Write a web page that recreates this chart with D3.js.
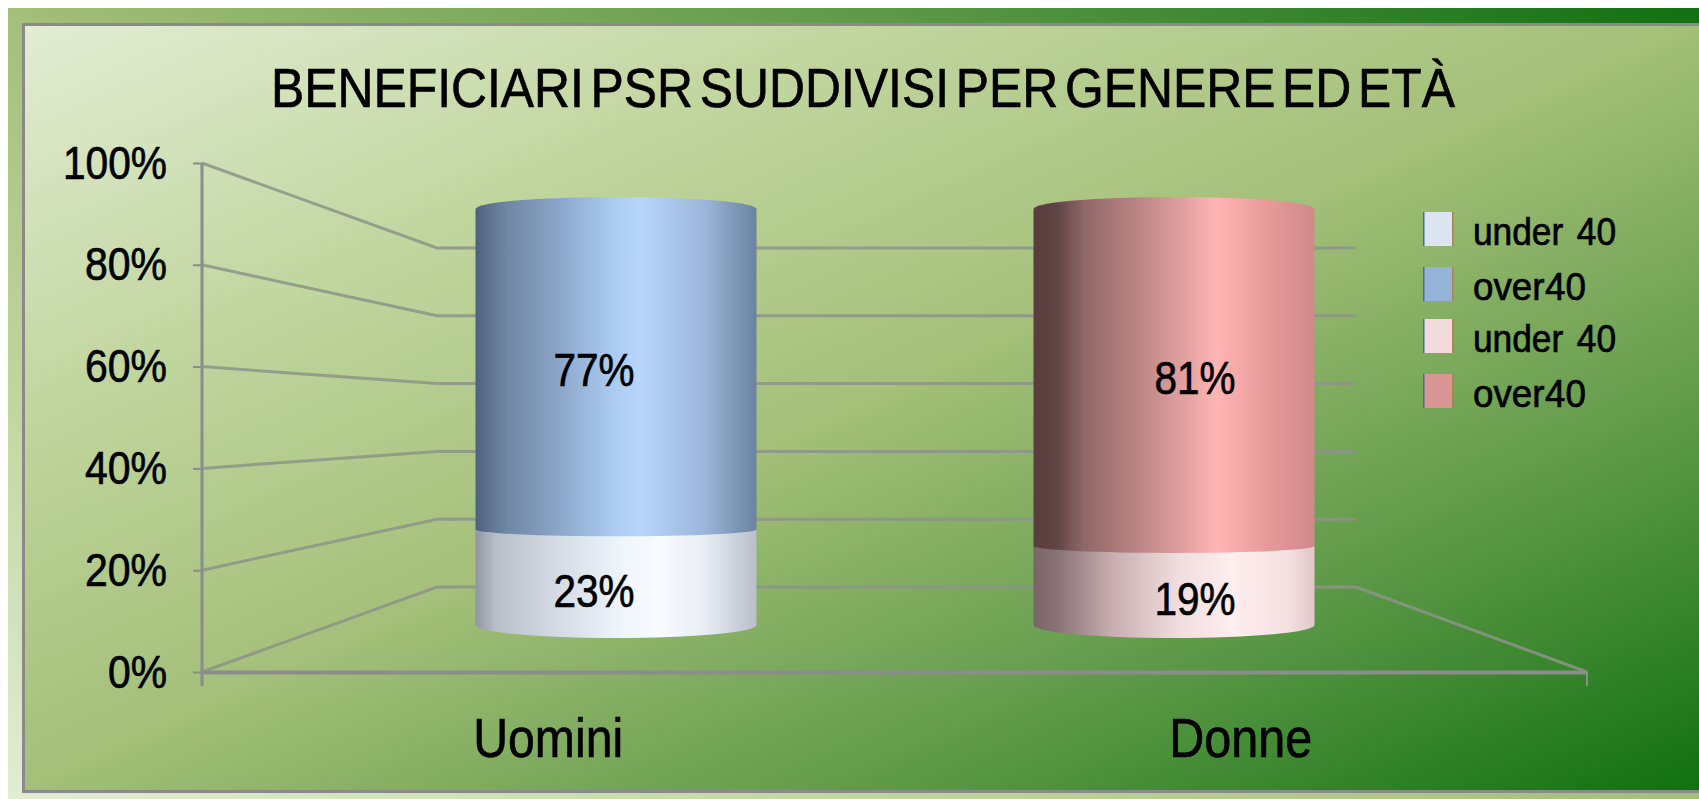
<!DOCTYPE html>
<html><head><meta charset="utf-8">
<script src="https://cdn.jsdelivr.net/npm/d3@7/dist/d3.min.js"></script>
<style>html,body{margin:0;padding:0;background:#fff;overflow:hidden}svg{display:block}text{font-family:"Liberation Sans",Arial,sans-serif;fill:#000;stroke:#000;stroke-width:.7px}</style>
</head><body><svg id="c" width="1699" height="799"></svg>
<script>
const chartTitle = "BENEFICIARI PSR SUDDIVISI PER GENERE ED ETÀ";
const categories = ["Uomini", "Donne"];
const under40 = [23, 19];
const over40 = [77, 81];
const tickValues = [0, 20, 40, 60, 80, 100];
const legendLabels = ["under 40", "over 40", "under 40", "over 40"];
const legendColors = ["#dce6f2", "#95b3d7", "#f2dcdb", "#d99694"];
const cylinderRamps = [
  {top: [[0, "#4f6280"], [.11, "#6f86a3"], [.29, "#8aa5c8"], [.47, "#a8c8ee"], [.585, "#b8d6fc"], [.82, "#9ab5d8"], [1, "#6b82a0"]],
   bottom: [[0, "#8f96a3"], [.07, "#b8bec8"], [.29, "#d5dbe4"], [.53, "#f0f6fc"], [.65, "#f8fbff"], [.82, "#e8ecf4"], [1, "#b8bfca"]]},
  {top: [[0, "#5a3c3c"], [.08, "#5f4444"], [.18, "#906868"], [.36, "#b98282"], [.53, "#e0a0a0"], [.65, "#ffb5b4"], [.83, "#e89a9a"], [1, "#d08a8a"]],
   bottom: [[0, "#7a6468"], [.09, "#8a7478"], [.28, "#c8aeb0"], [.51, "#f0dcdc"], [.7, "#ffeeee"], [.91, "#f4dfe0"], [1, "#e0c8ca"]]}
];

const svg = d3.select("#c");
const defs = svg.append("defs");
function linGrad(id, x1, y1, x2, y2, stops) {
  const g = defs.append("linearGradient").attr("id", id)
    .attr("x1", x1).attr("y1", y1).attr("x2", x2).attr("y2", y2);
  stops.forEach(s => g.append("stop").attr("offset", s[0]).attr("stop-color", s[1]));
}
const bgStops = [[0, "#e2edd4"], [.25, "#c2d6a0"], [.5, "#a3bf78"], [.75, "#5f9a48"], [1, "#107010"]];
linGrad("inner", 0, 0, 1, 1, bgStops);
linGrad("outer", 0, 1, 1, 0, bgStops);
defs.append("filter").attr("id", "soft").append("feGaussianBlur").attr("stdDeviation", 0.7);

svg.append("rect").attr("x", 8).attr("y", 8).attr("width", 1691).attr("height", 791).attr("fill", "url(#outer)");
svg.append("rect").attr("x", 23.5).attr("y", 24.5).attr("width", 1680).attr("height", 767)
  .attr("fill", "url(#inner)").attr("stroke", "#8a8a8a").attr("stroke-width", 3);

function fit(sel, len) { sel.attr("textLength", len).attr("lengthAdjust", "spacingAndGlyphs"); }

svg.append("text").attr("x", 271).attr("y", 107).attr("font-size", 56)
  .style("word-spacing", "-8px").text(chartTitle).call(fit, 1184);

// Scales: front plane, back wall, cylinders
const yFront = d3.scaleLinear().domain([0, 100]).range([672, 163]);
const yBack = d3.scaleLinear().domain([0, 100]).range([587, 248]);
const yCyl = d3.scaleLinear().domain([0, 100]).range([625, 209]);
const xFront = d3.scaleBand().domain(categories).range([202, 1587]);
const xCyl = d3.scalePoint().domain(categories).range([616, 1174]);
const xVal = d3.scalePoint().domain(categories).range([594, 1195]);
const backL = 437, backR = 1356, frontR = 1587, frontL = 202;
const cylW = 281, ryTop = 12, ryMid = 7, ryBot = 13;

const grid = svg.append("g").attr("filter", "url(#soft)")
  .attr("fill", "none").attr("stroke", "#8c9488").attr("stroke-opacity", .85).attr("stroke-width", 3);
grid.selectAll("path.g").data(tickValues).join("path").attr("class", "g")
  .attr("d", v => d3.line()([[frontL, yFront(v)], [backL, yBack(v)], [backR, yBack(v)]]));
grid.append("path").attr("d", d3.line()([[backR, yBack(0)], [frontR, yFront(0)]]));

// Y axis
const yAxis = svg.append("g").attr("transform", `translate(${frontL},0)`)
  .call(d3.axisLeft(yFront).tickValues(tickValues).tickFormat(d => d + "%").tickSize(9).tickPadding(26).tickSizeOuter(0));
yAxis.select(".domain").attr("stroke", "#8c8c8c").attr("stroke-width", 3)
  .attr("d", d3.line()([[0, yFront(100)], [0, 686]]));
yAxis.selectAll(".tick line").attr("stroke", "#8c8c8c").attr("stroke-width", 2);
yAxis.selectAll(".tick text").attr("font-size", 46).attr("dy", 15).attr("font-family", null)
  .each(function (d) { d3.select(this).call(fit, d === 100 ? 104 : d === 0 ? 59 : 82); });

// X axis
const xAxis = svg.append("g").attr("transform", "translate(0,672)")
  .call(d3.axisBottom(xFront).tickSize(0).tickPadding(50));
xAxis.select(".domain").attr("stroke", "#8c8c8c").attr("stroke-width", 4);
xAxis.selectAll(".tick text").attr("font-size", 56).attr("dy", 35).attr("font-family", null)
  .each(function (d, i) { d3.select(this).call(fit, [150, 143][i]); });
const boundaries = [frontL, xFront(categories[1]), frontR];
xAxis.selectAll("line.b").data(boundaries).join("line").attr("class", "b")
  .attr("x1", d => d).attr("x2", d => d).attr("y1", 0)
  .attr("y2", (d, i) => i === 1 ? 6 : 14).attr("stroke", "#8c8c8c").attr("stroke-width", 2);

// Cylinders
const cyl = svg.append("g").attr("filter", "url(#soft)");
categories.forEach((c, i) => {
  const cx = xCyl(c), l = cx - cylW / 2, r = cx + cylW / 2, rx = cylW / 2;
  linGrad("t" + i, 0, 0, 1, 0, cylinderRamps[i].top);
  linGrad("b" + i, 0, 0, 1, 0, cylinderRamps[i].bottom);
  const y0 = yCyl(0), y1 = yCyl(under40[i]), y2 = yCyl(under40[i] + over40[i]);
  cyl.append("path").attr("fill", `url(#t${i})`)
    .attr("d", `M${l},${y2}A${rx},${ryTop} 0 0 1 ${r},${y2}L${r},${y1 + 1}A${rx},${ryMid} 0 0 1 ${l},${y1 + 1}Z`);
  cyl.append("path").attr("fill", `url(#b${i})`)
    .attr("d", `M${l},${y1}A${rx},${ryMid} 0 0 0 ${r},${y1}L${r},${y0}A${rx},${ryBot} 0 0 1 ${l},${y0}Z`);
});

// Value labels
categories.forEach((c, i) => {
  const u = under40[i], o = over40[i];
  svg.append("text").attr("x", xVal(c)).attr("y", yCyl(u / 2) + ryBot + 17).attr("text-anchor", "middle")
    .attr("font-size", 47).text(u + "%").call(fit, 81);
  svg.append("text").attr("x", xVal(c)).attr("y", yCyl(u + o / 2) + 17).attr("text-anchor", "middle")
    .attr("font-size", 47).text(o + "%").call(fit, 81);
});

// Legend
const legOff = [0, 55, 107, 162];
const leg = svg.append("g").selectAll("g").data(legendLabels).join("g")
  .attr("transform", (d, i) => `translate(1423,${212 + legOff[i]})`);
leg.append("rect").attr("width", 30).attr("height", 34).attr("fill", (d, i) => legendColors[i]);
leg.append("rect").attr("width", 1.5).attr("height", 34).attr("fill", "#3f6f9f");
leg.append("rect").attr("x", 29).attr("width", 1.5).attr("height", 34).attr("fill", "#b08050");
leg.append("text").attr("x", 50).attr("y", 33).attr("font-size", 38)
  .style("word-spacing", (d, i) => i % 2 ? "-10px" : "4px")
  .text(d => d)
  .each(function (d, i) { d3.select(this).call(fit, i % 2 ? 113 : 143); });
</script></body></html>
